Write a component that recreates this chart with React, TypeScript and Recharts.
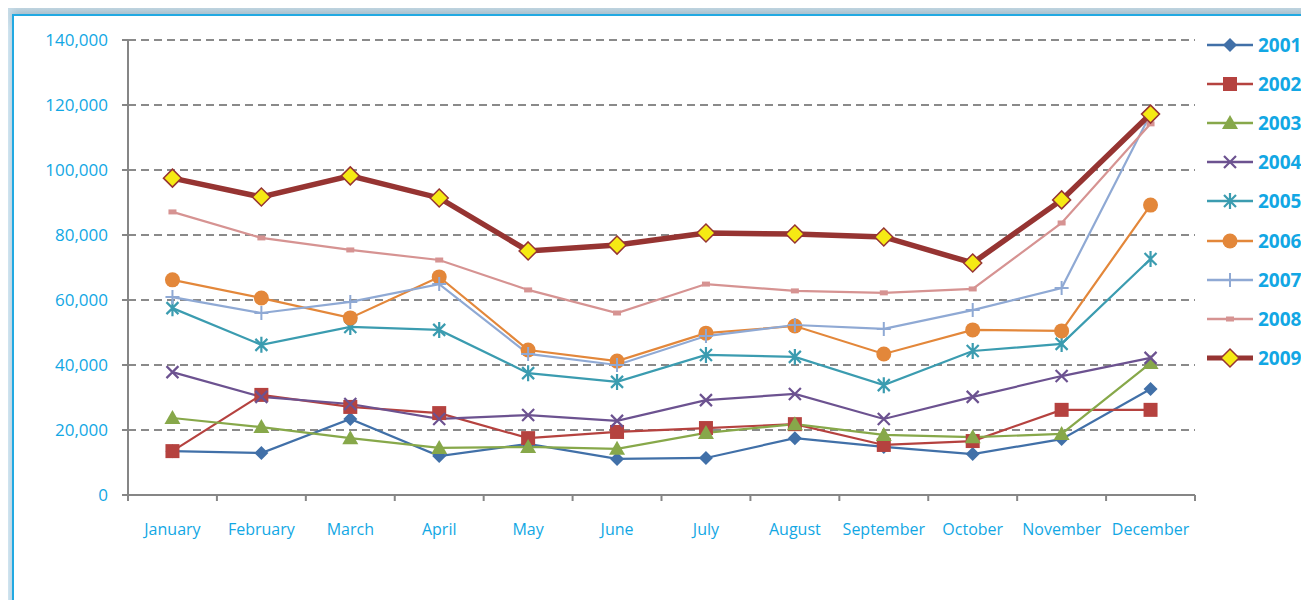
import React from "react";
import { LineChart, Line, XAxis, YAxis, CartesianGrid } from "recharts";

const months = ["January", "February", "March", "April", "May", "June", "July", "August", "September", "October", "November", "December"];

const y2001 = [13500, 12900, 23400, 12000, 15700, 11100, 11400, 17500, 14800, 12600, 17200, 32600];
const y2002 = [13500, 30800, 27100, 25200, 17500, 19400, 20600, 21800, 15400, 16600, 26200, 26200];
const y2003 = [23700, 20900, 17500, 14500, 14800, 14200, 19100, 21800, 18500, 17800, 18800, 40600];
const y2004 = [37800, 30200, 28000, 23400, 24600, 22800, 29200, 31100, 23400, 30200, 36600, 42200];
const y2005 = [57500, 46200, 51700, 50800, 37500, 34800, 43100, 42500, 33800, 44300, 46500, 72600];
const y2006 = [66200, 60600, 54500, 67100, 44600, 41200, 49800, 52000, 43400, 50800, 50500, 89200];
const y2007 = [60900, 56000, 59400, 64900, 43400, 40000, 48900, 52300, 51100, 56900, 63700, 117200];
const y2008 = [87100, 79100, 75400, 72300, 63100, 56000, 64900, 62800, 62200, 63400, 83700, 114200];
const y2009 = [97500, 91700, 98200, 91400, 75100, 76900, 80600, 80300, 79400, 71400, 90800, 117200];

const yTicks = [0, 20000, 40000, 60000, 80000, 100000, 120000, 140000];

type Kind = "diamond" | "square" | "triangle" | "cross" | "star" | "circle" | "plus" | "dash" | "bigdiamond";

const series: { key: string; name: string; values: number[]; color: string; width: number; kind: Kind }[] = [
  { key: "s2001", name: "2001", values: y2001, color: "#4170a8", width: 2.2, kind: "diamond" },
  { key: "s2002", name: "2002", values: y2002, color: "#b5423f", width: 2.2, kind: "square" },
  { key: "s2003", name: "2003", values: y2003, color: "#87a84a", width: 2.2, kind: "triangle" },
  { key: "s2004", name: "2004", values: y2004, color: "#6c5290", width: 2.2, kind: "cross" },
  { key: "s2005", name: "2005", values: y2005, color: "#3b9cb0", width: 2.2, kind: "star" },
  { key: "s2006", name: "2006", values: y2006, color: "#e3873a", width: 2.2, kind: "circle" },
  { key: "s2007", name: "2007", values: y2007, color: "#8fa9d4", width: 2.2, kind: "plus" },
  { key: "s2008", name: "2008", values: y2008, color: "#d69392", width: 2.2, kind: "dash" },
  { key: "s2009", name: "2009", values: y2009, color: "#963432", width: 5.5, kind: "bigdiamond" },
];

const rows = months.map((m, i) => {
  const row: Record<string, string | number> = { month: m, pos: i + 0.5 };
  series.forEach((s) => {
    row[s.key] = s.values[i];
  });
  return row;
});

const CYAN = "#12a7e4";
const HALF_BAND = 1067 / 24;

function Marker({ kind, cx, cy, color }: { kind: Kind; cx: number; cy: number; color: string }) {
  switch (kind) {
    case "diamond":
      return <path d={`M${cx},${cy - 7}L${cx + 7},${cy}L${cx},${cy + 7}L${cx - 7},${cy}Z`} fill={color} />;
    case "square":
      return <rect x={cx - 7} y={cy - 7} width={14} height={14} fill={color} />;
    case "triangle":
      return <path d={`M${cx},${cy - 8}L${cx + 8},${cy + 6}L${cx - 8},${cy + 6}Z`} fill={color} />;
    case "cross":
      return (
        <path d={`M${cx - 6},${cy - 6}L${cx + 6},${cy + 6}M${cx + 6},${cy - 6}L${cx - 6},${cy + 6}`} stroke={color} strokeWidth={2.2} />
      );
    case "star":
      return (
        <path
          d={`M${cx - 6},${cy - 6}L${cx + 6},${cy + 6}M${cx + 6},${cy - 6}L${cx - 6},${cy + 6}M${cx},${cy - 8}L${cx},${cy + 8}`}
          stroke={color}
          strokeWidth={2.2}
        />
      );
    case "circle":
      return <circle cx={cx} cy={cy} r={7.5} fill={color} />;
    case "plus":
      return <path d={`M${cx - 7},${cy}L${cx + 7},${cy}M${cx},${cy - 7}L${cx},${cy + 7}`} stroke={color} strokeWidth={2} />;
    case "dash":
      return <rect x={cx - 4} y={cy - 2.5} width={8} height={5} fill={color} />;
    case "bigdiamond":
      return (
        <path
          d={`M${cx},${cy - 9}L${cx + 9},${cy}L${cx},${cy + 9}L${cx - 9},${cy}Z`}
          fill="#f5ea14"
          stroke={color}
          strokeWidth={1.5}
        />
      );
  }
}

function MonthTick(props: any) {
  const { x, y, payload } = props;
  const idx = Math.round(payload.value);
  if (idx >= months.length) return <g />;
  return (
    <text x={x + HALF_BAND} y={y} dy="0.71em" textAnchor="middle" fill={CYAN} fontSize={16} fontFamily="Open Sans">
      {months[idx]}
    </text>
  );
}

function LegendBox() {
  return (
    <div style={{ position: "absolute", left: 1203, top: 25 }}>
      {series.map((s) => (
        <div key={s.key} style={{ display: "flex", alignItems: "center", height: 39.2 }}>
          <svg width={54} height={24}>
            <line x1={4} y1={12} x2={50} y2={12} stroke={s.color} strokeWidth={s.kind === "bigdiamond" ? 5 : 2.5} />
            <Marker kind={s.kind} cx={27} cy={12} color={s.color} />
          </svg>
          <span style={{ color: CYAN, fontFamily: "Open Sans", fontWeight: 700, fontSize: 19, marginLeft: 1 }}>{s.name}</span>
        </div>
      ))}
    </div>
  );
}

export default function App() {
  return (
    <div
      style={{
        position: "relative",
        margin: -8,
        width: 1309,
        height: 608,
        overflow: "hidden",
        background: "linear-gradient(180deg, #c3d8e3 0px, #d9edf8 30px, #d9edf8 100%)",
      }}
    >
      <div
        style={{
          position: "absolute",
          left: 12,
          top: 14,
          width: 1320,
          height: 620,
          background: "#ffffff",
          border: "2px solid #22a9e2",
          boxShadow: "0 -3px 8px rgba(80,110,130,0.35)",
        }}
      />
      <div style={{ position: "absolute", left: 0, top: 0 }}>
        <LineChart width={1309} height={608} data={rows} margin={{ top: 40, right: 114, bottom: 0, left: 0 }}>
          <CartesianGrid horizontal vertical={false} stroke="#8a8a8a" strokeWidth={2} strokeDasharray="8 5" />
          <XAxis
            dataKey="pos"
            type="number"
            domain={[0, 12]}
            ticks={[0, 1, 2, 3, 4, 5, 6, 7, 8, 9, 10, 11, 12]}
            interval={0}
            height={113}
            stroke="#868686"
            strokeWidth={2}
            tickSize={6}
            tickMargin={23}
            tick={<MonthTick />}
          />
          <YAxis
            domain={[0, 140000]}
            ticks={yTicks}
            width={128}
            stroke="#868686"
            strokeWidth={2}
            tickSize={6}
            tickMargin={14}
            tick={{ fill: CYAN, fontSize: 17, fontFamily: "Open Sans" }}
            tickFormatter={(v: number) => v.toLocaleString("en-US")}
          />
          {series.map((s) => (
            <Line
              key={s.key}
              dataKey={s.key}
              name={s.name}
              stroke={s.color}
              strokeWidth={s.width}
              isAnimationActive={false}
              dot={(p: any) => (
                <g key={`${s.key}-${p.index}`}>
                  <Marker kind={s.kind} cx={p.cx} cy={p.cy} color={s.color} />
                </g>
              )}
              activeDot={false}
            />
          ))}
        </LineChart>
      </div>
      <LegendBox />
    </div>
  );
}
